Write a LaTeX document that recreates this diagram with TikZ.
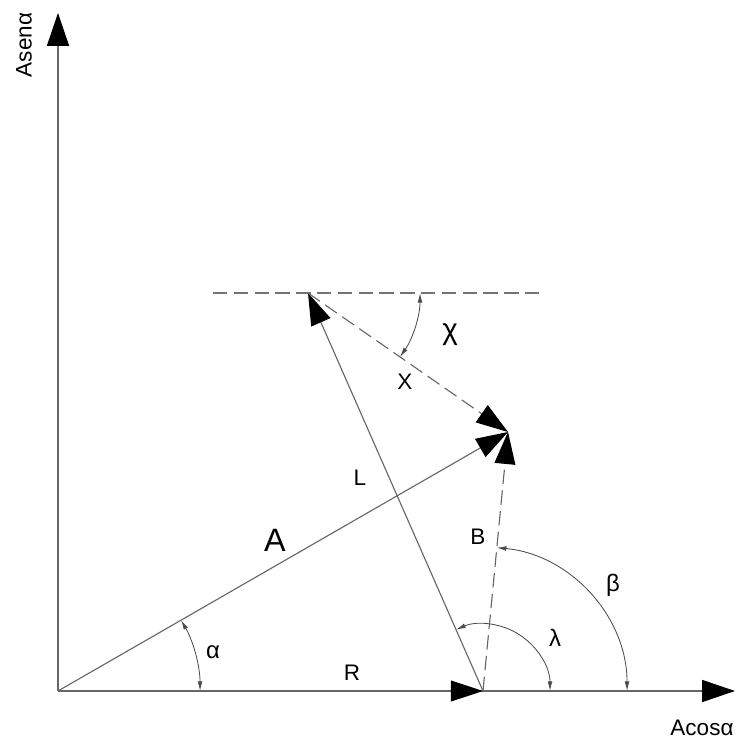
\documentclass[tikz,border=0pt]{standalone}
\usepackage{fontspec}
\setmainfont{Liberation Sans}
\usetikzlibrary{arrows.meta}

\begin{document}
\begin{tikzpicture}[
    x=0.025cm, y=0.025cm,
    axisline/.style={draw=black!60, line width=0.8pt,
                     -{Triangle[length=0.82cm, width=0.55cm, black]}},
    vec/.style={draw=black!60, line width=0.8pt,
                -{Triangle[length=0.8cm, width=0.52cm, black]}},
    dvec/.style={vec, dash pattern=on 0.36cm off 0.16cm},
    guide/.style={draw=black!55, line width=0.8pt, dash pattern=on 0.36cm off 0.16cm},
    angarc/.style={draw=black!70, line width=0.6pt,
                   {Latex[length=2.4mm, width=1.2mm]}-{Latex[length=2.4mm, width=1.2mm]}},
    lbl/.style={font=\fontsize{16}{18}\selectfont, inner sep=0pt},
    glbl/.style={font=\fontsize{17}{19}\selectfont, inner sep=0pt},
    biglbl/.style={font=\fontsize{23}{26}\selectfont, inner sep=0pt},
  ]
  \useasboundingbox (-58,-48) rectangle (681,691);
  % points
  \coordinate (O) at (0,0);
  \coordinate (xtip) at (677,0);
  \coordinate (ytip) at (0,678);
  \coordinate (P) at (425,0);
  \coordinate (Q) at (250,398);
  \coordinate (T) at (450,259);
  \coordinate (hl) at (155,398);
  \coordinate (hr) at (482,398);
  % axes
  \draw[axisline] (O) -- (xtip);
  \draw[axisline] (O) -- (ytip);
  \node[lbl, rotate=90] (asen) at (-34,646) {Asenα};
  \node[lbl] (acos) at (644,-37) {Acosα};
  % vectors
  \draw[guide] (hl) -- (hr);
  \draw[vec] (O) -- (P);
  \draw[vec] (O) -- (T);
  \draw[vec] (P) -- (Q);
  \draw[dvec] (Q) -- (T);
  \draw[dvec] (P) -- (T);
  % angles
  \draw[angarc] ([shift={(0:3.55cm)}]O) arc[start angle=0, end angle=29.9, radius=3.55cm];
  \draw[angarc] ([shift={(0:1.675cm)}]P) arc[start angle=0, end angle=113.7, radius=1.675cm];
  \draw[angarc] ([shift={(0:3.6cm)}]P) arc[start angle=0, end angle=84.5, radius=3.6cm];
  \draw[angarc] ([shift={(-34.8:2.8cm)}]Q) arc[start angle=-34.8, end angle=0, radius=2.8cm];
  % labels
  \node[lbl] (rlbl) at (294,18) {R};
  \node[biglbl] (albl) at (217,151) {A};
  \node[lbl] (llbl) at (302,213) {L};
  \node[lbl] (blbl) at (420,154) {B};
  \node[lbl] (xlbl) at (347,309) {X};
  \node[glbl] (alpha) at (155,39) {α};
  \node[glbl] (lambda) at (497,53) {λ};
  \node[glbl] (beta) at (555,106) {β};
  \node[font=\fontsize{21}{24}\selectfont, inner sep=0pt] (chi) at (392,356) {χ};
\end{tikzpicture}
\end{document}
